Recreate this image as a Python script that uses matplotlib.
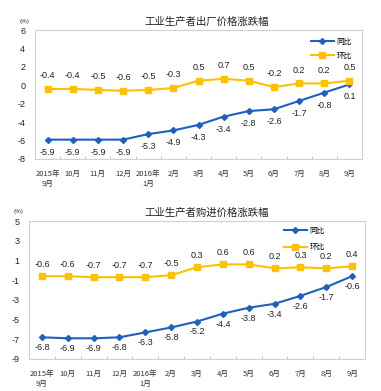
#!/usr/bin/env python3
"""
Two line charts: PPI (出厂) and purchase price (购进) changes, 2015-09 .. 2016-09.
"""

import matplotlib
matplotlib.use("Agg")
import matplotlib.pyplot as plt
import numpy as np

plt.rcParams["font.family"] = ["Liberation Sans", "Noto Sans CJK SC", "DejaVu Sans"]

months = ["2015年\n9月", "10月", "11月", "12月", "2016年\n1月", "2月", "3月",
          "4月", "5月", "6月", "7月", "8月", "9月"]

# 工业生产者出厂价格
ppi_yoy = [-5.9, -5.9, -5.9, -5.9, -5.3, -4.9, -4.3, -3.4, -2.8, -2.6, -1.7, -0.8, 0.1]
ppi_mom = [-0.4, -0.4, -0.5, -0.6, -0.5, -0.3, 0.5, 0.7, 0.5, -0.2, 0.2, 0.2, 0.5]

# 工业生产者购进价格
pur_yoy = [-6.8, -6.9, -6.9, -6.8, -6.3, -5.8, -5.2, -4.4, -3.8, -3.4, -2.6, -1.7, -0.6]
pur_mom = [-0.6, -0.6, -0.7, -0.7, -0.7, -0.5, 0.3, 0.6, 0.6, 0.2, 0.3, 0.2, 0.4]

BLUE = "#1F5FBF"
YELLOW = "#FFC000"
W, H = 381, 391
CJK = ["Noto Sans CJK SC", "DejaVu Sans"]


def draw_panel(fig, box, title, yoy, mom, yticks, legend_xy, legend_gap, offsets):
    left, top, right, bottom = box
    ax = fig.add_axes([left / W, 1 - bottom / H, (right - left) / W, (bottom - top) / H])
    x = np.arange(len(months))

    ax.plot(x, yoy, color=BLUE, lw=1.5, marker="D", ms=3.0, label="同比", zorder=3)
    ax.plot(x, mom, color=YELLOW, lw=1.5, marker="s", ms=4.0, label="环比", zorder=3)

    off_yoy, off_mom = offsets
    for xi, v in zip(x, yoy):
        ax.annotate(f"{v:g}", (xi, v), xytext=(0, off_yoy), textcoords="offset points",
                    ha="center", va="center", fontsize=6.5, color="#222222")
    for xi, v in zip(x, mom):
        ax.annotate(f"{v:g}", (xi, v), xytext=(0, off_mom), textcoords="offset points",
                    ha="center", va="center", fontsize=6.5, color="#222222")

    ax.set_xlim(-0.5, len(months) - 0.5)
    ax.set_ylim(yticks[0], yticks[-1])
    ax.set_yticks(yticks)
    ax.set_yticklabels([f"{t:g}" for t in yticks], fontsize=6.5, color="#222222")
    ax.tick_params(axis="y", length=0, pad=7)

    ax.set_xticks(x)
    ax.set_xticklabels(months, fontsize=5.5, color="#333333", family=CJK, linespacing=1.3)
    ax.tick_params(axis="x", length=0, pad=8)
    ax.set_xticks(np.arange(-0.5, len(months)), minor=True)
    ax.tick_params(axis="x", which="minor", length=2.5, direction="in", color="#BBBBBB")

    for s in ax.spines.values():
        s.set_color("#D0D0D0")
        s.set_linewidth(0.8)

    # title and unit
    fig.text(207 / W, 1 - (top - 8) / H, title, ha="center", va="center", fontsize=7.5,
             family=CJK, color="#222222")
    fig.text((left - 10) / W, 1 - (top - 9) / H, "(%)", ha="center", va="center",
             fontsize=4.5, color="#333333")

    lx, ly = legend_xy
    ax.legend(loc="upper left", bbox_to_anchor=(lx / W, 1 - ly / H),
              bbox_transform=fig.transFigure, frameon=False,
              prop={"family": CJK, "size": 5.5}, borderpad=0, borderaxespad=0,
              handlelength=3.0, handletextpad=0.3, labelspacing=legend_gap)
    return ax


fig = plt.figure(figsize=(W / 100, H / 100), dpi=100)
fig.patch.set_facecolor("white")

draw_panel(fig, (35, 30, 362, 159), "工业生产者出厂价格涨跌幅", ppi_yoy, ppi_mom,
           [-8, -6, -4, -2, 0, 2, 4, 6], (311, 38), 0.75, (-9, 9.5))
draw_panel(fig, (29, 221, 365, 359), "工业生产者购进价格涨跌幅", pur_yoy, pur_mom,
           [-9, -7, -5, -3, -1, 1, 3, 5], (284, 227), 1.1, (-7.5, 8.5))

fig.savefig("out.png", dpi=100, facecolor="white")
